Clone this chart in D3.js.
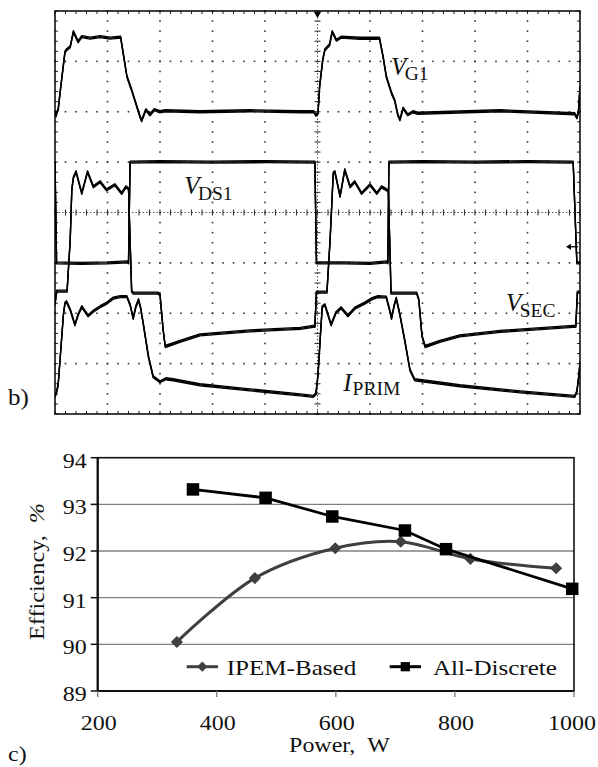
<!DOCTYPE html>
<html><head><meta charset="utf-8">
<script src="https://cdn.jsdelivr.net/npm/d3@7"></script>
<style>html,body{margin:0;padding:0;background:#fff;} svg{display:block;} text{white-space:pre;}</style>
</head><body>
<svg id="fig" width="598" height="767"></svg>
<script>
// ===== Panel b: oscilloscope traces, [time (div), amplitude (div)] =====
const traceVG1 = [[0,2.0],[0.02,1.92],[0.04,2.0],[0.06,2.04],[0.11,2.50],[0.19,3.19],[0.22,3.23],[0.29,3.29],[0.35,3.59],[0.44,3.39],[0.51,3.49],[0.67,3.46],[0.86,3.49],[1.05,3.46],[1.25,3.48],[1.31,3.09],[1.37,2.70],[1.46,2.43],[1.52,2.23],[1.62,1.90],[1.65,1.82],[1.73,2.04],[1.81,1.94],[1.89,2.04],[2.00,2.00],[2.10,2.02],[2.76,2.0],[3.71,2.02],[4.67,2.0],[4.93,2.0],[4.97,1.93],[5.01,1.97],[5.04,2.50],[5.10,3.03],[5.14,3.23],[5.23,3.33],[5.28,3.59],[5.36,3.42],[5.45,3.48],[5.81,3.46],[6.18,3.46],[6.25,3.09],[6.31,2.70],[6.41,2.37],[6.47,2.23],[6.53,1.94],[6.57,1.84],[6.63,2.07],[6.72,1.94],[6.82,2.00],[6.91,1.97],[8.48,2.02],[9.90,1.96],[9.94,1.88],[9.97,2.0],[10,2.49]];
const traceVDS1 = [[0,1.0],[0.03,-1.0],[0.5,-1.01],[1.0,-1.0],[1.38,-0.98],[1.40,-1.0],[1.43,1.0],[2.0,1.01],[3.0,1.0],[4.0,1.01],[4.95,1.0],[4.98,-1.0],[5.5,-1.0],[6.0,-1.01],[6.32,-0.98],[6.34,-1.0],[6.36,1.0],[7.0,1.01],[8.0,1.0],[9.0,1.01],[9.87,1.0],[9.94,-1.0],[10,-1.0]];
const traceVSEC = [[0,-1.83],[0.03,-1.56],[0.23,-1.56],[0.29,-0.54],[0.32,0.45],[0.35,0.69],[0.40,0.81],[0.51,0.38],[0.62,0.81],[0.73,0.51],[0.86,0.61],[0.98,0.45],[1.14,0.55],[1.27,0.38],[1.35,0.51],[1.40,0.47],[1.43,-0.54],[1.46,-1.56],[1.49,-1.60],[1.96,-1.60],[2.00,-1.63],[2.06,-2.33],[2.10,-2.66],[2.38,-2.56],[2.76,-2.43],[3.71,-2.35],[4.67,-2.30],[4.92,-2.26],[4.95,-2.26],[4.98,-1.58],[5.18,-1.58],[5.24,-0.54],[5.30,0.78],[5.33,0.81],[5.43,0.32],[5.52,0.85],[5.62,0.51],[5.71,0.61],[5.84,0.38],[6.00,0.55],[6.13,0.38],[6.22,0.51],[6.32,0.45],[6.35,0.41],[6.38,-0.74],[6.40,-1.60],[6.89,-1.60],[6.93,-1.73],[6.99,-2.45],[7.05,-2.66],[7.33,-2.56],[7.71,-2.45],[8.48,-2.36],[9.87,-2.26],[9.92,-2.26],[9.95,-1.58],[10,-1.58]];
const traceIPRIM = [[0,-3.66],[0.03,-3.56],[0.06,-3.42],[0.11,-2.73],[0.16,-2.03],[0.19,-1.80],[0.22,-1.77],[0.29,-1.93],[0.38,-2.23],[0.44,-2.03],[0.51,-1.87],[0.63,-2.05],[0.74,-1.95],[0.86,-1.87],[0.97,-1.81],[1.11,-1.70],[1.24,-1.67],[1.37,-1.67],[1.43,-1.83],[1.49,-2.10],[1.54,-1.87],[1.59,-1.73],[1.63,-1.89],[1.68,-2.20],[1.78,-2.86],[1.87,-3.26],[2.00,-3.36],[2.11,-3.30],[2.25,-3.32],[2.76,-3.42],[3.71,-3.52],[4.67,-3.62],[4.92,-3.65],[4.97,-3.60],[5.01,-3.22],[5.05,-2.53],[5.09,-1.87],[5.14,-1.83],[5.20,-2.03],[5.26,-2.23],[5.35,-1.99],[5.45,-1.89],[5.58,-2.05],[5.71,-1.90],[5.90,-1.80],[6.04,-1.71],[6.15,-1.67],[6.31,-1.68],[6.36,-1.88],[6.41,-2.10],[6.46,-1.85],[6.50,-1.70],[6.57,-2.03],[6.66,-2.53],[6.76,-3.12],[6.85,-3.32],[6.99,-3.34],[7.14,-3.36],[7.71,-3.44],[8.86,-3.56],[9.90,-3.65],[9.94,-3.56],[9.98,-3.22],[10,-2.97]];
const scopeTraces = [traceVG1, traceVDS1, traceVSEC, traceIPRIM];
const scopeLabelMain = ["V", "V", "V", "I"];
const scopeLabelSub = ["G1", "DS1", "SEC", "PRIM"];

// ===== Panel c: efficiency vs power =====
const seriesNames = ["IPEM-Based", "All-Discrete"];
const powerIPEM = [333, 464, 599, 709, 826, 970];
const effIPEM = [90.05, 91.42, 92.06, 92.2, 91.83, 91.63];
const powerDiscrete = [360, 482, 594, 716, 785, 997];
const effDiscrete = [93.32, 93.14, 92.74, 92.44, 92.04, 91.19];
const xTicks = [200, 400, 600, 800, 1000];
const yTicks = [89, 90, 91, 92, 93, 94];
const xTitle = "Power,\u00A0\u00A0W";
const yTitle = "Efficiency,\u00A0\u00A0";
const yTitleUnit = "%";
const panelLabels = ["b)", "c)"];

const FONT = "'Liberation Serif','Times New Roman',serif";
const svg = d3.select("#fig");
svg.append("rect").attr("width",598).attr("height",767).attr("fill","#fff");

// ---------- Panel b ----------
const sx = d3.scaleLinear([0,10],[55,580]);
const sy = d3.scaleLinear([-4,4],[414,11]);
const gb = svg.append("g");
const minorT = d3.range(0, 10.001, 0.2);
const minorV = d3.range(-4, 4.001, 0.2);
// dotted division grid
const dots = gb.append("g").attr("fill","#333");
[1,2,3,4,6,7,8,9].forEach(t => {
  minorV.forEach(v => dots.append("rect").attr("x",sx(t)-0.8).attr("y",sy(v)-0.8).attr("width",1.6).attr("height",1.6));
});
[-3,-2,-1,1,2,3].forEach(v => {
  minorT.forEach(t => dots.append("rect").attr("x",sx(t)-0.8).attr("y",sy(v)-0.8).attr("width",1.6).attr("height",1.6));
});
// center axes
gb.append("line").attr("x1",sx(0)).attr("x2",sx(10)).attr("y1",sy(0)).attr("y2",sy(0))
  .attr("stroke","#555").attr("stroke-width",1).attr("stroke-dasharray","1.5,2");
gb.append("line").attr("x1",sx(5)).attr("x2",sx(5)).attr("y1",sy(-4)).attr("y2",sy(4))
  .attr("stroke","#555").attr("stroke-width",1).attr("stroke-dasharray","1.5,2");
minorT.forEach(t => gb.append("line").attr("x1",sx(t)).attr("x2",sx(t)).attr("y1",sy(0)-3).attr("y2",sy(0)+3).attr("stroke","#333").attr("stroke-width",1.1));
minorV.forEach(v => gb.append("line").attr("x1",sx(5)-3).attr("x2",sx(5)+3).attr("y1",sy(v)).attr("y2",sy(v)).attr("stroke","#333").attr("stroke-width",1.1));
// border ticks
minorT.forEach(t => {
  gb.append("line").attr("x1",sx(t)).attr("x2",sx(t)).attr("y1",sy(4)).attr("y2",sy(4)+3).attr("stroke","#222");
  gb.append("line").attr("x1",sx(t)).attr("x2",sx(t)).attr("y1",sy(-4)).attr("y2",sy(-4)-3).attr("stroke","#222");
});
minorV.forEach(v => {
  gb.append("line").attr("x1",sx(0)).attr("x2",sx(0)+3).attr("y1",sy(v)).attr("y2",sy(v)).attr("stroke","#222");
  gb.append("line").attr("x1",sx(10)).attr("x2",sx(10)-3).attr("y1",sy(v)).attr("y2",sy(v)).attr("stroke","#222");
});
// clip
svg.append("clipPath").attr("id","scopeclip").append("rect")
  .attr("x",sx(0)).attr("y",sy(4)).attr("width",sx(10)-sx(0)).attr("height",sy(-4)-sy(4));
const traceLine = d3.line().x(d=>sx(d[0])).y(d=>sy(d[1]));
const tg = gb.append("g").attr("clip-path","url(#scopeclip)");
scopeTraces.forEach(tr => {
  [-1, 0, 1].forEach(off => {
    tg.append("path").attr("d", traceLine(tr)).attr("transform",`translate(0,${off})`)
      .attr("fill","none").attr("stroke","#000").attr("stroke-width",1.35).attr("stroke-linejoin","round");
  });
});
// frame
gb.append("rect").attr("x",sx(0)).attr("y",sy(4)).attr("width",sx(10)-sx(0)).attr("height",sy(-4)-sy(4))
  .attr("fill","none").attr("stroke","#000").attr("stroke-width",1.5);
// trigger marker (top) and ground marker (right)
gb.append("path").attr("d",`M${sx(5)-3.5},${sy(4)+1}L${sx(5)+3.5},${sy(4)+1}L${sx(5)},${sy(4)+7}Z`).attr("fill","#000");
gb.append("path").attr("d",`M${sx(10)-14},${sy(-0.68)}L${sx(10)-9},${sy(-0.68)-3}L${sx(10)-9},${sy(-0.68)+3}Z`).attr("fill","#000");
gb.append("line").attr("x1",sx(10)-10).attr("x2",sx(10)-2).attr("y1",sy(-0.68)).attr("y2",sy(-0.68)).attr("stroke","#000").attr("stroke-width",1.3);
// trace labels
const labelPos = [[6.40,2.73,5],[2.46,0.37,6.5],[8.59,-1.95,6],[5.49,-3.54,4.5]];
scopeLabelMain.forEach((m,i) => {
  const [t,v,dy] = labelPos[i];
  const tx = gb.append("text").attr("x",sx(t)).attr("y",sy(v)).attr("font-family",FONT).attr("fill","#111");
  tx.append("tspan").attr("font-style","italic").attr("font-size",25).text(m);
  tx.append("tspan").attr("font-size",19.5).attr("dx", m==="I"? 1 : -1.5).attr("dy",dy).text(scopeLabelSub[i]);
});

// ---------- Panel c ----------
const x = d3.scaleLinear([200,1000],[97.7,574]);
const y = d3.scaleLinear([89,94],[691,457.7]);
const gc = svg.append("g");
const SX = 1.09;
function stretchText(sel, px, py, rot, anchor) {
  return sel.attr("transform",`translate(${px},${py}) rotate(${rot}) scale(${SX},1)`)
    .attr("text-anchor",anchor).attr("font-family",FONT).attr("font-size",22).attr("fill","#111");
}
// gridlines
yTicks.filter(d => d>89 && d<94).forEach(d => {
  gc.append("line").attr("x1",x(200)).attr("x2",x(1000)).attr("y1",y(d)).attr("y2",y(d))
    .attr("stroke","#808080").attr("stroke-width",1.3);
});
// frame
gc.append("rect").attr("x",x(200)).attr("y",y(94)).attr("width",x(1000)-x(200)).attr("height",y(89)-y(94))
  .attr("fill","none").attr("stroke","#111").attr("stroke-width",1.6);
gc.append("line").attr("x1",x(200)).attr("x2",x(200)).attr("y1",y(94)).attr("y2",y(89)).attr("stroke","#111").attr("stroke-width",2.2);
gc.append("line").attr("x1",x(200)).attr("x2",x(1000)).attr("y1",y(89)).attr("y2",y(89)).attr("stroke","#111").attr("stroke-width",2.2);
// ticks + labels
yTicks.forEach(d => {
  gc.append("line").attr("x1",x(200)-7).attr("x2",x(200)).attr("y1",y(d)).attr("y2",y(d)).attr("stroke","#111").attr("stroke-width",1.5);
  stretchText(gc.append("text"), x(200)-11, y(d)+10, 0, "end").text(d);
});
xTicks.forEach(d => {
  gc.append("line").attr("x1",x(d)).attr("x2",x(d)).attr("y1",y(89)).attr("y2",y(89)+6).attr("stroke","#777").attr("stroke-width",1.3);
  stretchText(gc.append("text"), d === 1000 ? x(d)-2 : x(d)+1, y(89)+39, 0, "middle").text(d);
});
// titles
stretchText(gc.append("text"), 339.5, 751.5, 0, "middle").text(xTitle);
const yt = stretchText(gc.append("text"), 44, 571.5, -90, "middle");
yt.attr("transform",`translate(44,571.5) rotate(-90) scale(1.1,1)`);
yt.append("tspan").text(yTitle);
yt.append("tspan").attr("font-style","italic").text(yTitleUnit);
stretchText(svg.append("text"), 8, 405, 0, "start").attr("font-size",23).text(panelLabels[0]);
stretchText(svg.append("text"), 8, 761, 0, "start").attr("font-size",22).text(panelLabels[1]);

// series
const ipem = powerIPEM.map((p,i)=>[p,effIPEM[i]]);
const disc = powerDiscrete.map((p,i)=>[p,effDiscrete[i]]);
const lineSmooth = d3.line().x(d=>x(d[0])).y(d=>y(d[1])).curve(d3.curveCatmullRom.alpha(0.5));
const lineStraight = d3.line().x(d=>x(d[0])).y(d=>y(d[1]));
const IPEMC = "#3f3f3f";
gc.append("path").attr("d",lineSmooth(ipem)).attr("fill","none").attr("stroke",IPEMC).attr("stroke-width",3);
const diamond = d3.symbol().type(d3.symbolSquare).size(74);
const square = d3.symbol().type(d3.symbolSquare).size(156);
gc.selectAll(".dia").data(ipem).enter().append("path")
  .attr("d",diamond).attr("transform",d=>`translate(${x(d[0])},${y(d[1])}) rotate(45)`).attr("fill",IPEMC);
gc.append("path").attr("d",lineStraight(disc)).attr("fill","none").attr("stroke","#000").attr("stroke-width",2.8);
gc.selectAll(".sq").data(disc).enter().append("path")
  .attr("d",square).attr("transform",d=>`translate(${x(d[0])},${y(d[1])})`).attr("fill","#000");

// legend
const legY = 666.7;
gc.append("line").attr("x1",186.7).attr("x2",218).attr("y1",legY).attr("y2",legY).attr("stroke",IPEMC).attr("stroke-width",3);
gc.append("path").attr("d",d3.symbol().type(d3.symbolSquare).size(52)).attr("transform",`translate(202.3,${legY}) rotate(45)`).attr("fill",IPEMC);
stretchText(gc.append("text"), 226.7, 675, 0, "start").attr("transform",`translate(226.7,675) scale(1.14,1)`).text(seriesNames[0]);
gc.append("line").attr("x1",389.7).attr("x2",421).attr("y1",legY).attr("y2",legY).attr("stroke","#000").attr("stroke-width",3);
gc.append("path").attr("d",d3.symbol().type(d3.symbolSquare).size(85)).attr("transform",`translate(405.3,${legY})`).attr("fill","#000");
stretchText(gc.append("text"), 433, 675, 0, "start").attr("transform",`translate(433,675) scale(1.14,1)`).text(seriesNames[1]);
</script>
</body></html>
